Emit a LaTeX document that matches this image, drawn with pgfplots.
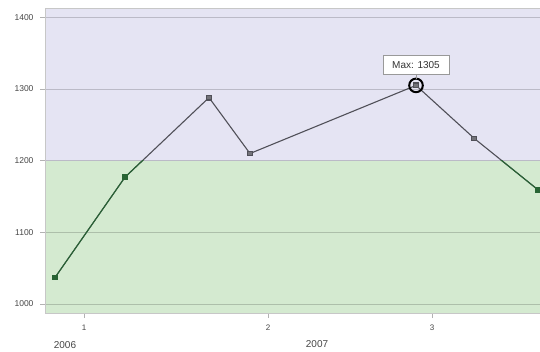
\documentclass[border=0pt]{standalone}
\usepackage{pgfplots}
\pgfplotsset{compat=1.18}
\usepackage{pgfplotstable}
\usepackage{fontspec}
\setmainfont{Liberation Sans}
\definecolor{lav}{RGB}{229,228,243}
\definecolor{grn}{RGB}{212,234,208}
\definecolor{lgray}{RGB}{80,80,88}
\definecolor{dgreen}{RGB}{40,100,52}
\definecolor{txt}{RGB}{70,70,70}
\pgfplotstableread{
x y
2.02 1037
16.16 1177
33.13 1288
41.41 1210
74.95 1305
86.73 1231
99.66 1159
}\data
\begin{document}
\begin{tikzpicture}
\begin{axis}[
  set layers,
  at={(45pt,38pt)}, anchor=south west,
  scale only axis, width=495pt, height=305pt,
  xmin=0, xmax=100, ymin=987.5, ymax=1413,
  xtick={7.88,45.05,78.18}, xticklabels={1,2,3},
  ytick={1000,1100,1200,1300,1400},
  yticklabels={1000,1100,1200,1300,1400},
  xtick pos=bottom, ytick pos=left,
  ymajorgrids,
  grid style={black, opacity=0.18, line width=0.8pt},
  axis line style={draw=black!22},
  tick style={draw=black!30, line width=0.6pt},
  tick align=outside,
  major tick length=5pt,
  /pgf/number format/assume math mode=true,
  yticklabel style={font=\fontsize{8.5}{10}\selectfont, text=txt, xshift=-3pt},
  xticklabel style={font=\fontsize{8}{9}\selectfont, text=txt, yshift=-3pt},
]
\addplot[draw=none, fill=lav, on layer=axis background]
  coordinates {(0,1200) (100,1200) (100,1413) (0,1413)} -- cycle;
\addplot[draw=none, fill=grn, on layer=axis background]
  coordinates {(0,987.5) (100,987.5) (100,1200) (0,1200)} -- cycle;
\addplot[lgray, line width=1.1pt, mark=square*, mark size=2.4pt,
  mark options={fill=lgray!80, draw=lgray}] table[x=x,y=y] {\data};
\draw[black, line width=2pt] (axis cs:74.95,1305) circle (6.8pt);
\draw[black!40] ([yshift=6.8pt]axis cs:74.95,1305) -- ([yshift=11pt]axis cs:74.95,1305);
\node[draw=black!40, fill=white, font=\fontsize{10}{12}\selectfont, text=black!80,
  minimum width=66pt, minimum height=19pt, inner sep=1pt]
  at (axis cs:74.95,1305) [yshift=20.5pt] {Max: 1305};
\end{axis}
\begin{axis}[
  at={(45pt,38pt)}, anchor=south west,
  scale only axis, width=495pt, height=152.3pt,
  xmin=0, xmax=100, ymin=987.5, ymax=1200,
  hide axis,
]
\addplot[dgreen, line width=1.1pt, mark=square*, mark size=2.4pt,
  mark options={fill=dgreen, draw=dgreen}] table[x=x,y=y] {\data};
\end{axis}
\node[font=\fontsize{10}{12}\selectfont, text=txt] at (65pt,6pt) {2006};
\node[font=\fontsize{10}{12}\selectfont, text=txt] at (317pt,6.5pt) {2007};
\pgfresetboundingbox
\useasboundingbox (0,0) rectangle (540pt,351pt);
\end{tikzpicture}
\end{document}
